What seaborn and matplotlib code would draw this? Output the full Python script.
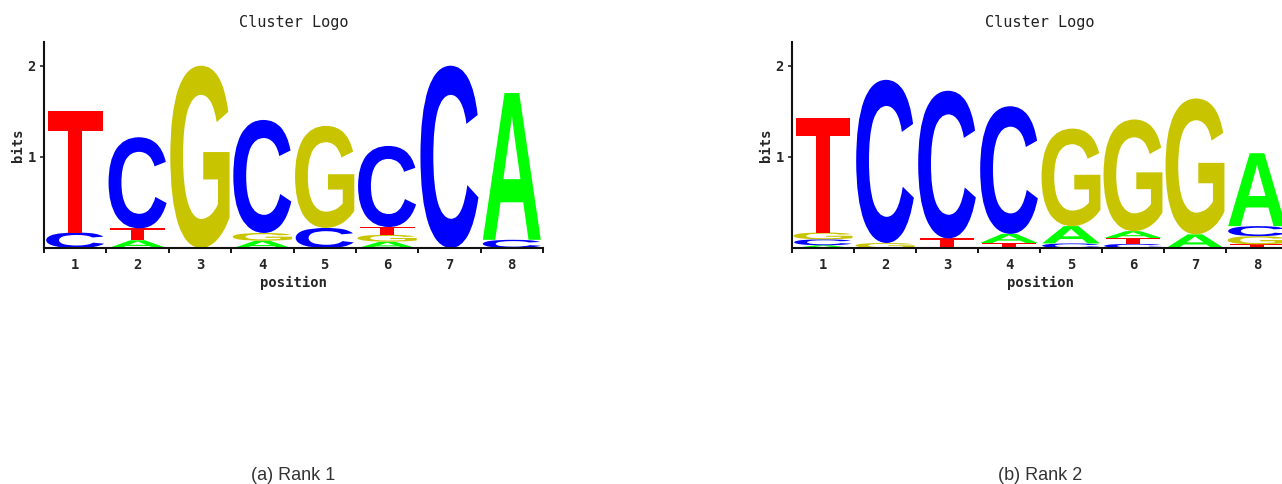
import numpy as np
import matplotlib
matplotlib.use('Agg')
import matplotlib.pyplot as plt
import seaborn as sns
from matplotlib.textpath import TextPath
from matplotlib.patches import PathPatch
from matplotlib.font_manager import FontProperties
from matplotlib.transforms import Affine2D

# Alturas das letras (bits) por posicao
positions = [1, 2, 3, 4, 5, 6, 7, 8]
letters = ['A', 'C', 'G', 'T']

rank1_A = [0.00, 0.085, 0.00, 0.080, 0.00, 0.070, 0.00, 1.61]
rank1_C = [0.17, 1.00, 0.00, 1.24, 0.22, 0.89, 2.00, 0.09]
rank1_G = [0.00, 0.00, 2.00, 0.085, 1.12, 0.075, 0.00, 0.00]
rank1_T = [1.33, 0.13, 0.00, 0.00, 0.00, 0.085, 0.00, 0.00]

rank2_A = [0.030, 0.00, 0.00, 0.10, 0.19, 0.075, 0.15, 0.80]
rank2_C = [0.065, 1.79, 1.62, 1.40, 0.05, 0.045, 0.00, 0.11]
rank2_G = [0.075, 0.055, 0.00, 0.00, 1.07, 1.225, 1.49, 0.09]
rank2_T = [1.26, 0.00, 0.105, 0.055, 0.00, 0.065, 0.00, 0.04]

captions = ['(a) Rank 1', '(b) Rank 2']
letter_colors = {'A': '#00FF00', 'C': '#0000FF', 'G': '#C8C400', 'T': '#FF0000'}
letter_widths = {'A': 0.93, 'C': 0.93, 'G': 0.95, 'T': 0.88}

sns.set_theme(style="ticks")
plt.rcParams['font.family'] = ['DejaVu Sans Mono', 'DejaVu Sans']

glyph_font = FontProperties(family='Liberation Sans', weight='bold')


def draw_letter(ax, letter, x, bottom, height):
    """Desenha uma letra esticada dentro do retangulo da coluna"""
    width = letter_widths[letter]
    tp = TextPath((0, 0), letter, size=1, prop=glyph_font)
    bb = tp.get_extents()
    tr = (Affine2D()
          .translate(-bb.x0, -bb.y0)
          .scale(width / bb.width, height / bb.height)
          .translate(x - width / 2, bottom))
    path = tr.transform_path(tp)
    ax.add_patch(PathPatch(path, facecolor=letter_colors[letter],
                           edgecolor='none', lw=0))


def draw_logo(ax, heights, title):
    for i, pos in enumerate(positions):
        col = [(heights[l][i], l) for l in letters if heights[l][i] > 0]
        col.sort()
        base = 0.0
        for h, l in col:
            draw_letter(ax, l, pos, base, h)
            base += h
    ax.set_xlim(0.5, 8.5)
    ax.set_ylim(0, 2.26)
    ax.set_xticks(positions)
    ax.set_xticks(np.arange(0.5, 9.0, 1.0), minor=True)
    ax.set_yticks([1, 2])
    ax.tick_params(axis='x', which='major', length=0, pad=7,
                   labelsize=10)
    ax.tick_params(axis='x', which='minor', length=3.5, width=1.3,
                   color='black', direction='out')
    ax.tick_params(axis='y', which='major', length=3, width=1.2,
                   labelsize=10, pad=3)
    for lab in ax.get_xticklabels() + ax.get_yticklabels():
        lab.set_fontweight('bold')
    ax.set_xlabel('position', fontsize=10, fontweight='bold', labelpad=3)
    ax.set_ylabel('bits', fontsize=10, fontweight='bold', labelpad=2)
    ax.set_title(title, fontsize=11, pad=11, color='#222222')
    sns.despine(ax=ax)
    for s in ['left', 'bottom']:
        ax.spines[s].set_linewidth(1.5)
        ax.spines[s].set_color('#111111')


fig = plt.figure(figsize=(12.82, 4.84), dpi=100)
ax1 = fig.add_axes([44 / 1282, 236 / 484, 499 / 1282, 206 / 484])
ax2 = fig.add_axes([792 / 1282, 236 / 484, 496 / 1282, 206 / 484])

draw_logo(ax1, {'A': rank1_A, 'C': rank1_C, 'G': rank1_G, 'T': rank1_T}, 'Cluster Logo')
draw_logo(ax2, {'A': rank2_A, 'C': rank2_C, 'G': rank2_G, 'T': rank2_T}, 'Cluster Logo')

fig.text(293 / 1282, 1 - 476 / 484, captions[0], ha='center', va='center',
         fontsize=13, family='Liberation Sans', color='#333333')
fig.text(1040 / 1282, 1 - 476 / 484, captions[1], ha='center', va='center',
         fontsize=13, family='Liberation Sans', color='#333333')

fig.savefig('out.png', dpi=100)
plt.close(fig)
